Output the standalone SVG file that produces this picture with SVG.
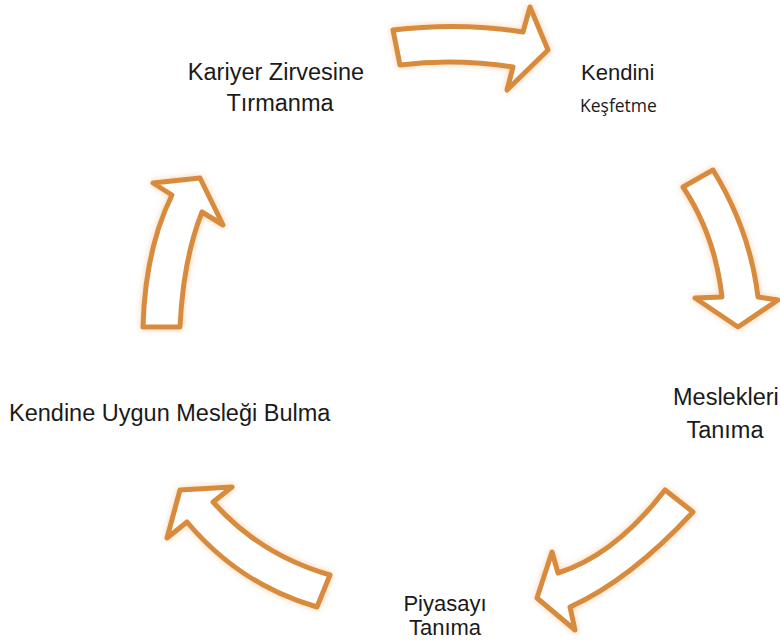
<svg xmlns="http://www.w3.org/2000/svg" width="780" height="644" viewBox="0 0 780 644">
<defs>
<filter id="glow" x="-20%" y="-20%" width="140%" height="140%">
<feGaussianBlur in="SourceAlpha" stdDeviation="3" result="b"/>
<feFlood flood-color="#F2C79A" flood-opacity="0.8"/>
<feComposite in2="b" operator="in" result="g"/>
<feMerge><feMergeNode in="g"/><feMergeNode in="SourceGraphic"/></feMerge>
</filter>
</defs>
<style>
.arrow{fill:#FFFFFF;stroke:#D98B3E;stroke-width:5;stroke-linejoin:round;filter:url(#glow)}
.lbl{font-family:"Liberation Sans",Arial,sans-serif;font-size:23.5px;fill:#1A1A1A}
.sm{font-family:"Liberation Sans",Arial,sans-serif;font-size:22px;fill:#1A1A1A}
.cal{font-family:"Open Sans","Noto Sans",sans-serif;font-size:17.5px;fill:#1A1A1A}
</style>
<rect width="780" height="644" fill="#FFFFFF"/>
<g id="connectors">
<path class="arrow" d="M393,30 Q460,22 523,32 L530,7 L548,50 L507,90 L513,67 Q455,58 400,65 Z"/>
<path class="arrow" d="M683,187 L713,170 Q750,230 758,297 L778,300 L738,327 L695,298 L722,297 Q715,235 683,187 Z"/>
<path class="arrow" d="M665,490 L693,512 Q630,580 570,607 L575,630 L537,598 L552,552 L558,573 Q615,555 665,490 Z"/>
<path class="arrow" d="M232,487 L180,490 L167,538 L187,522 Q240,585 317,607 L330,575 Q260,555 213,502 Z"/>
<path class="arrow" d="M143,327 Q145,250 172,195 L153,183 L200,178 L223,225 L202,212 Q183,260 180,327 Z"/>
</g>
<g id="node-kendini">
<text class="sm" x="581" y="80">Kendini</text>
<text class="cal" x="580" y="112">Keşfetme</text>
</g>
<g id="node-meslekleri">
<text class="lbl" x="673" y="405">Meslekleri</text>
<text class="lbl" x="725" y="438" text-anchor="middle">Tanıma</text>
</g>
<g id="node-piyasayi">
<text class="sm" x="445" y="611" text-anchor="middle">Piyasayı</text>
<text class="sm" x="445" y="635" text-anchor="middle">Tanıma</text>
</g>
<g id="node-meslek">
<text class="lbl" x="9" y="421">Kendine Uygun Mesleği Bulma</text>
</g>
<g id="node-kariyer">
<text class="lbl" x="276" y="80" text-anchor="middle">Kariyer Zirvesine</text>
<text class="lbl" x="280" y="111" text-anchor="middle">Tırmanma</text>
</g>
</svg>
